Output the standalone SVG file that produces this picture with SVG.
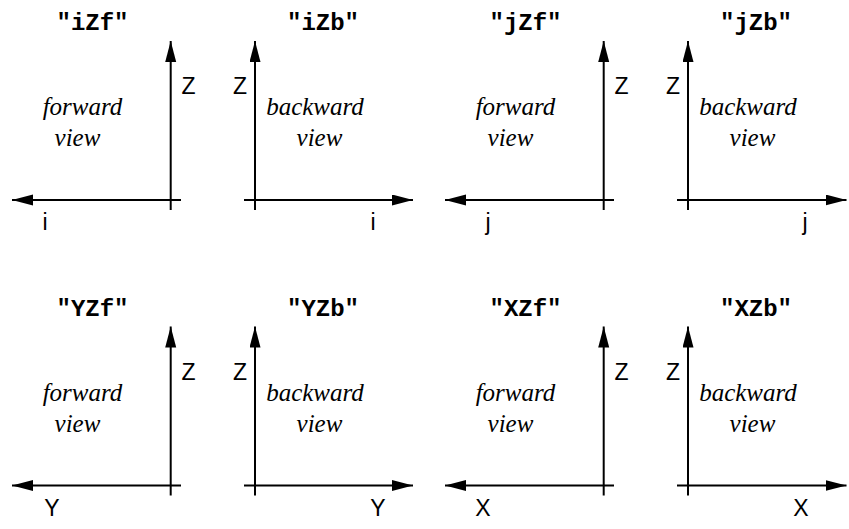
<svg xmlns="http://www.w3.org/2000/svg" width="849" height="529" viewBox="0 0 849 529">
<style>
.title{font-family:"Liberation Mono","Courier New",monospace;font-weight:bold;font-size:24px;text-anchor:middle;fill:#000}
.ax{font-family:"Liberation Sans",Arial,sans-serif;font-size:23px;fill:#000}
.mid{text-anchor:middle}
.view{font-family:"Liberation Serif","Times New Roman",serif;font-style:italic;font-size:25px;text-anchor:middle;fill:#000}
.axis{stroke:#000;stroke-width:2;fill:none}
</style>
<defs>
<marker id="ah" markerUnits="userSpaceOnUse" markerWidth="22" markerHeight="12" refX="21" refY="5.5" orient="auto">
<path d="M0,0 L21,5.5 L0,11 z" fill="#000"/>
</marker>
</defs>
<rect width="849" height="529" fill="#fff"/>

<g id="iZf">
<text class="title" x="92.5" y="30">"iZf"</text>
<text class="ax" x="181.5" y="94">Z</text>
<text class="view" x="82.5" y="115">forward</text>
<text class="view" x="77.5" y="146">view</text>
<text class="ax mid" x="45" y="230">i</text>
</g>
<g id="iZb">
<text class="title" x="323" y="30">"iZb"</text>
<text class="ax" x="233" y="94">Z</text>
<text class="view" x="315" y="115">backward</text>
<text class="view" x="319.5" y="146">view</text>
<text class="ax mid" x="373" y="230">i</text>
</g>
<g id="jZf">
<text class="title" x="525.5" y="30">"jZf"</text>
<text class="ax" x="614.5" y="94">Z</text>
<text class="view" x="515.5" y="115">forward</text>
<text class="view" x="510.5" y="146">view</text>
<text class="ax mid" x="488" y="230">j</text>
</g>
<g id="jZb">
<text class="title" x="756" y="30">"jZb"</text>
<text class="ax" x="666" y="94">Z</text>
<text class="view" x="748" y="115">backward</text>
<text class="view" x="752.5" y="146">view</text>
<text class="ax mid" x="805" y="230">j</text>
</g>

<g id="YZf">
<text class="title" x="92.5" y="315.5">"YZf"</text>
<text class="ax" x="181.5" y="379.5">Z</text>
<text class="view" x="82.5" y="400.5">forward</text>
<text class="view" x="77.5" y="431.5">view</text>
<text class="ax mid" x="52" y="515.5">Y</text>
</g>
<g id="YZb">
<text class="title" x="323" y="315.5">"YZb"</text>
<text class="ax" x="233" y="379.5">Z</text>
<text class="view" x="315" y="400.5">backward</text>
<text class="view" x="319.5" y="431.5">view</text>
<text class="ax mid" x="378" y="515.5">Y</text>
</g>
<g id="XZf">
<text class="title" x="525.5" y="315.5">"XZf"</text>
<text class="ax" x="614.5" y="379.5">Z</text>
<text class="view" x="515.5" y="400.5">forward</text>
<text class="view" x="510.5" y="431.5">view</text>
<text class="ax mid" x="483" y="515.5">X</text>
</g>
<g id="XZb">
<text class="title" x="756" y="315.5">"XZb"</text>
<text class="ax" x="666" y="379.5">Z</text>
<text class="view" x="748" y="400.5">backward</text>
<text class="view" x="752.5" y="431.5">view</text>
<text class="ax mid" x="801" y="515.5">X</text>
</g>

<g id="connectors" class="axis" marker-end="url(#ah)">
<line x1="170.7" y1="210" x2="170.7" y2="41"/>
<line x1="181" y1="200" x2="12" y2="200"/>
<line x1="255" y1="210" x2="255" y2="41"/>
<line x1="244" y1="200" x2="413" y2="200"/>
<line x1="603.7" y1="210" x2="603.7" y2="41"/>
<line x1="614" y1="200" x2="445" y2="200"/>
<line x1="688" y1="210" x2="688" y2="41"/>
<line x1="677" y1="200" x2="846.5" y2="200"/>

<line x1="170.7" y1="495.5" x2="170.7" y2="326.5"/>
<line x1="181" y1="485.5" x2="12" y2="485.5"/>
<line x1="255" y1="495.5" x2="255" y2="326.5"/>
<line x1="244" y1="485.5" x2="413" y2="485.5"/>
<line x1="603.7" y1="495.5" x2="603.7" y2="326.5"/>
<line x1="614" y1="485.5" x2="445" y2="485.5"/>
<line x1="688" y1="495.5" x2="688" y2="326.5"/>
<line x1="677" y1="485.5" x2="846.5" y2="485.5"/>
</g>
</svg>
